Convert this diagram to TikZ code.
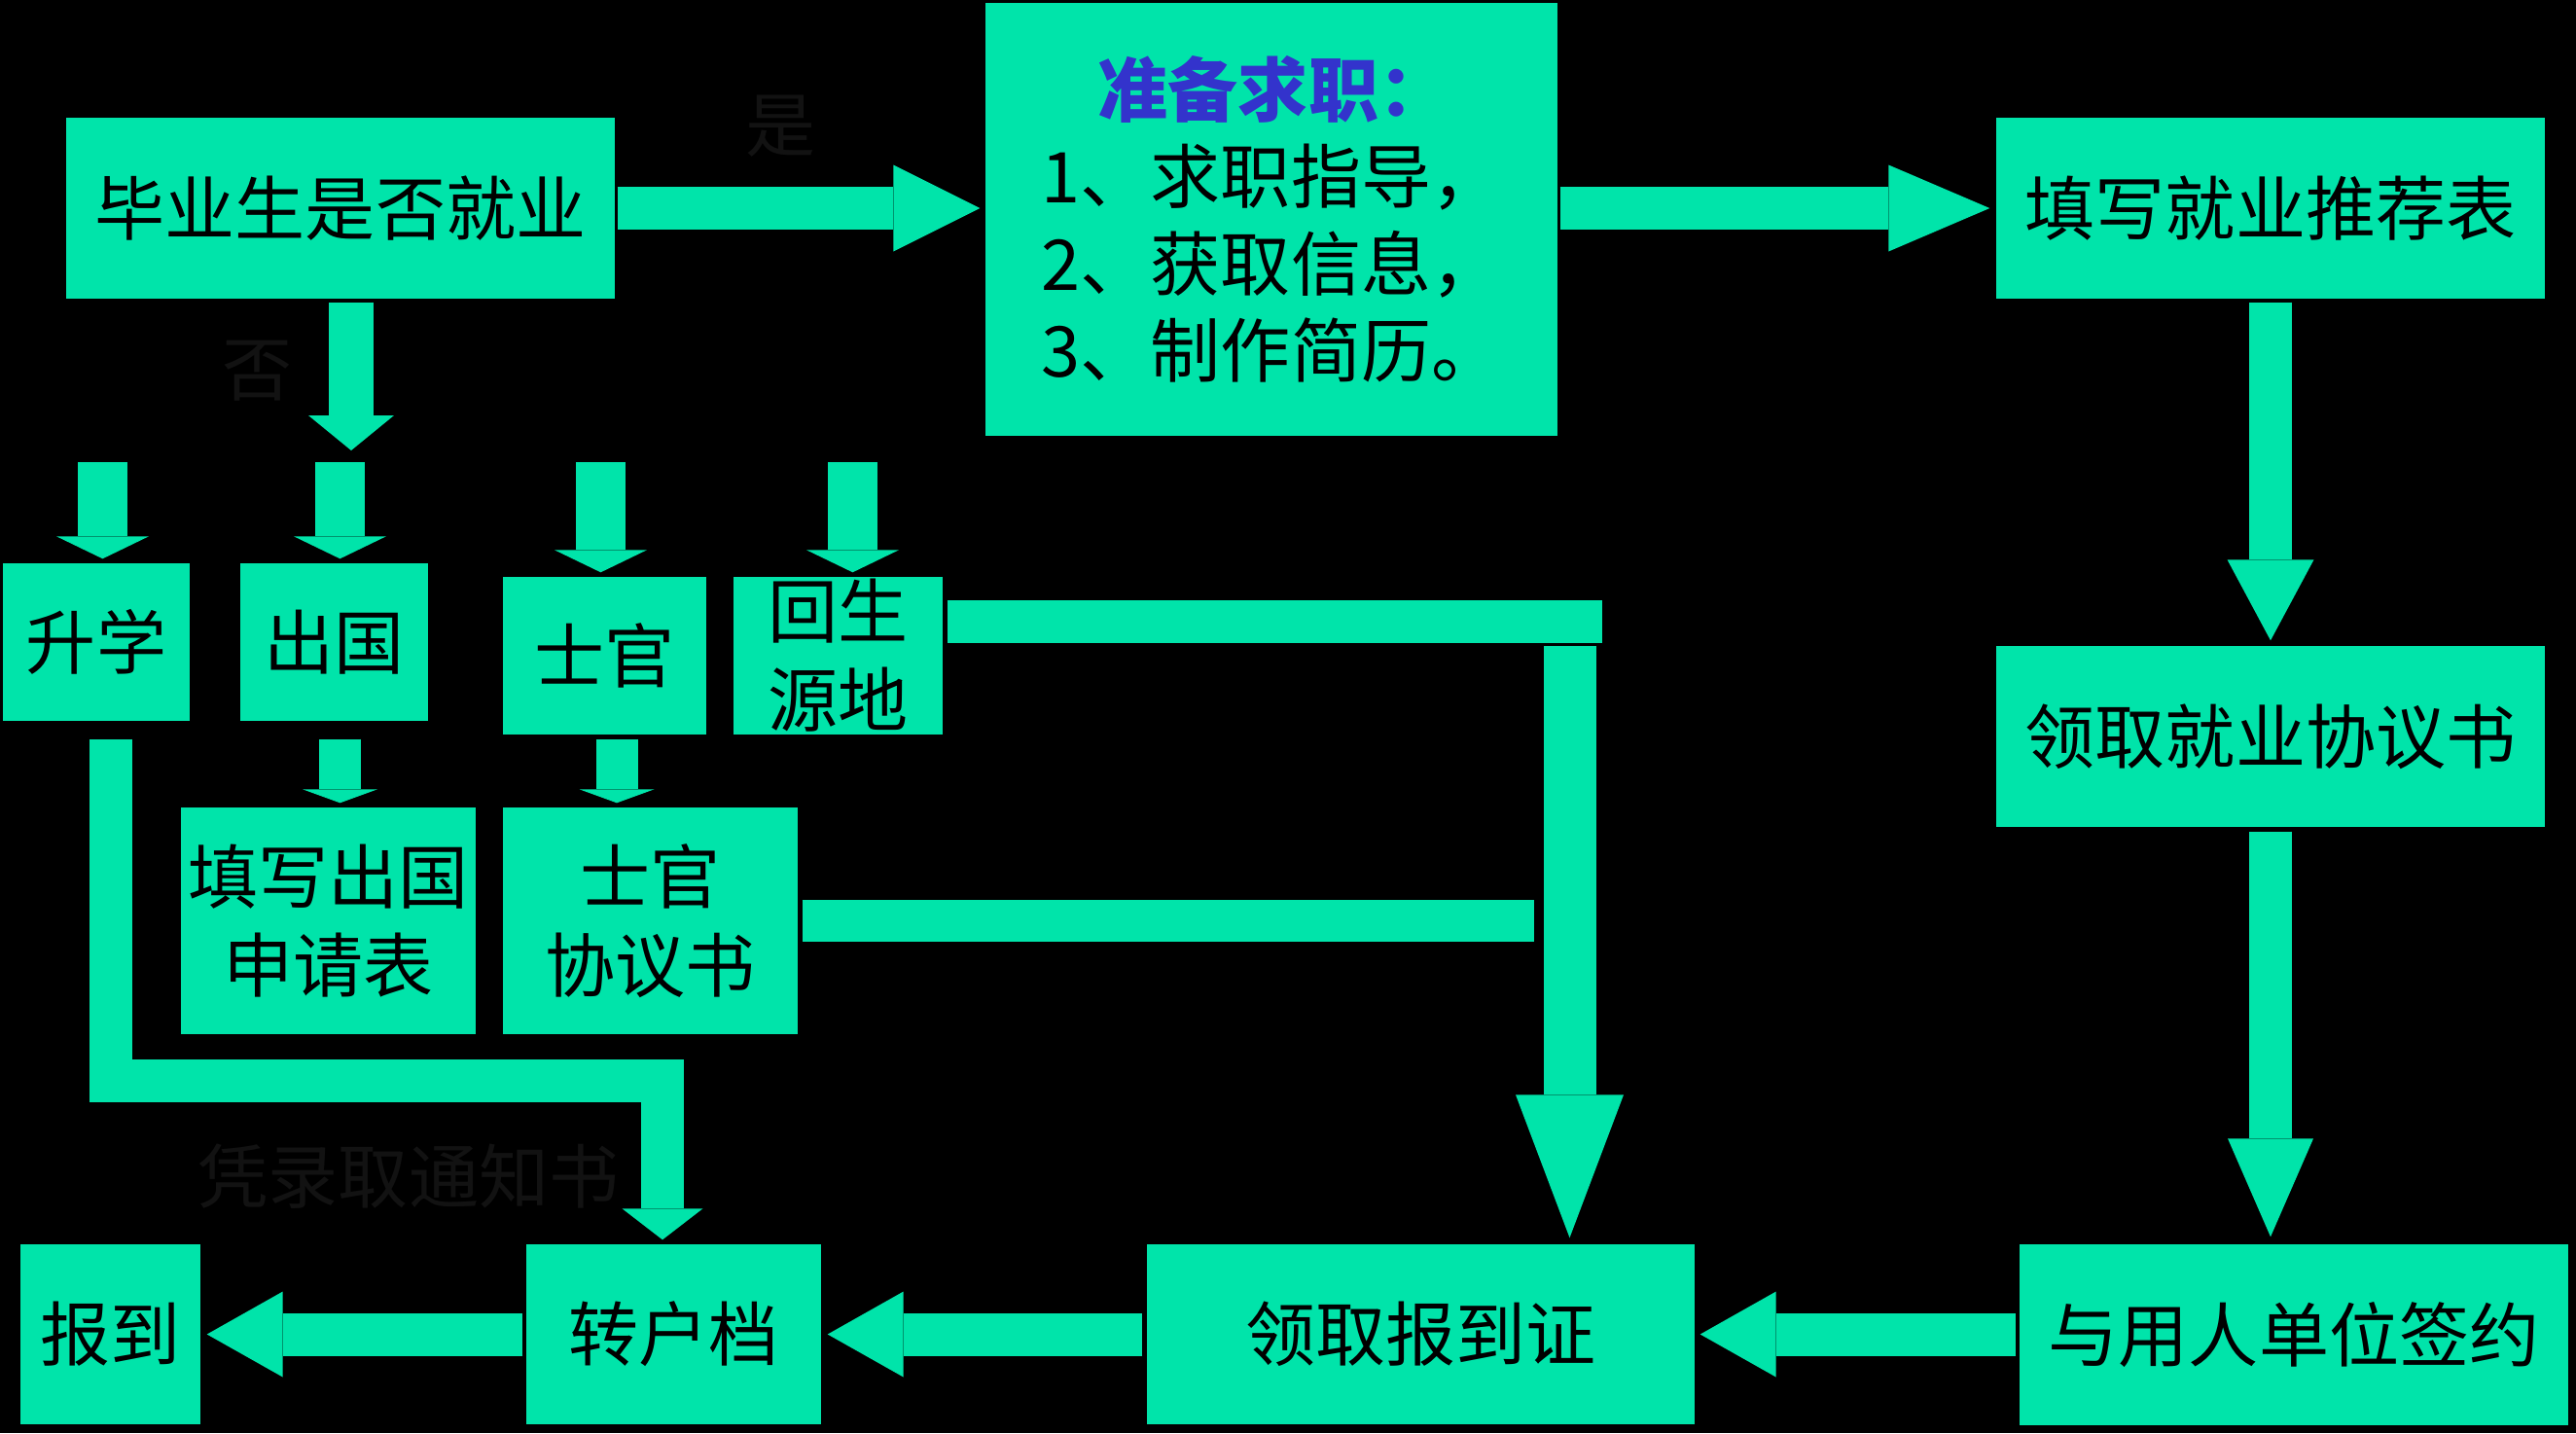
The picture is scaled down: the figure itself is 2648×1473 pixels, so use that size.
\documentclass[tikz,border=0pt]{standalone}
\usepackage{fontspec}
\setmainfont{Noto Sans CJK SC}
\usepackage{tikz}
\usetikzlibrary{arrows.meta}
\definecolor{mint}{RGB}{0,228,170}
\definecolor{ink}{RGB}{51,51,204}
\definecolor{shade}{RGB}{18,18,18}

\begin{document}
\begin{tikzpicture}[x=0.1mm,y=-0.1mm]
						\tikzstyle{box}=[fill=mint,inner sep=0pt,align=center,font=\fontsize{20.5pt}{9.1mm}\selectfont]
						\tikzstyle{hint}=[text=shade,inner sep=0pt,font=\fontsize{20.5pt}{9.1mm}\selectfont]
						\tikzstyle{flow}=[draw=mint,line width=4.4mm]
						\tikzstyle{lowhead}=[-{Triangle[length=7.8mm,width=8.8mm,line width=0pt]}]
						\tikzstyle{stubhead}=[-{Triangle[length=2.3mm,width=9.5mm,line width=0pt]}]
						\tikzstyle{tinyhead}=[-{Triangle[length=1.4mm,width=7.7mm,line width=0pt]}]
						\fill[black] (0,0) rectangle (2648,1473);
						\node[box,minimum width=56.4mm,minimum height=18.6mm](v1) at (350,214) {毕业生是否就业};
						\node[box,minimum width=58.8mm,minimum height=44.5mm,align=left,font=\fontsize{20.5pt}{8.95mm}\selectfont](v2) at (1307,225.5) {\hspace*{5.8mm}{\color{ink}\bfseries 准备求职：}\\1、求职指导，\\2、获取信息，\\3、制作简历。};
						\node[box,minimum width=56.4mm,minimum height=18.6mm](v3) at (2334,214) {填写就业推荐表};
						\node[box,minimum width=56.4mm,minimum height=18.6mm](v4) at (2334,757) {领取就业协议书};
						\node[box,minimum width=56.4mm,minimum height=18.6mm](v5) at (2358,1372) {与用人单位签约};
						\node[box,minimum width=56.3mm,minimum height=18.5mm](v6) at (1460.5,1371.5) {领取报到证};
						\node[box,minimum width=30.3mm,minimum height=18.5mm](v7) at (692.5,1371.5) {转户档};
						\node[box,minimum width=18.5mm,minimum height=18.5mm](v8) at (113.5,1371.5) {报到};
						\node[box,minimum width=19.2mm,minimum height=16.2mm](v9) at (99,660) {升学};
						\node[box,minimum width=19.3mm,minimum height=16.2mm](v10) at (343.5,660) {出国};
						\node[box,minimum width=20.9mm,minimum height=16.2mm](v11) at (621.5,674) {士官};
						\node[box,minimum width=21.5mm,minimum height=16.2mm](v12) at (861.5,674) {回生\\源地};
						\node[box,minimum width=30.3mm,minimum height=23.3mm](v13) at (337.5,946.5) {填写出国\\申请表};
						\node[box,minimum width=30.3mm,minimum height=23.3mm](v14) at (668.5,946.5) {士官\\协议书};
						\node[hint](l1) at (803,130) {是};
						\node[hint](l2) at (265,381) {否};
						\node[hint](l3) at (420,1209) {凭录取通知书};
						\coordinate (c1) at (361,463);
						\coordinate (c2) at (105.5,475);
						\coordinate (c3) at (349.5,475);
						\coordinate (c4) at (617.5,475);
						\coordinate (c5) at (876.5,475);
						\coordinate (c6) at (113.5,1111);
						\coordinate (c7) at (681,1111);
						\coordinate (c8) at (1647,639);
						\coordinate (c9) at (1613.5,664);
						\coordinate (c10) at (1577,946.5);
						\coordinate (c11) at (634,759);
						\draw[flow,-{Triangle[length=8.9mm,width=8.9mm,line width=0pt]},shorten <=0.2mm,shorten >=0.5mm](v1.east) -- (v2.west |- v1.east);
						\draw[flow,-{Triangle[length=10.4mm,width=8.9mm,line width=0pt]},shorten <=0.2mm,shorten >=0.6mm](v2.east |- v3.west) -- (v3.west);
						\draw[flow,-{Triangle[length=8.3mm,width=8.9mm,line width=0pt]},shorten <=0.3mm,shorten >=0.5mm](v3.south) -- (v4.north);
						\draw[flow,-{Triangle[length=10.1mm,width=8.8mm,line width=0pt]},shorten <=0.4mm,shorten >=0.7mm](v4.south) -- (v5.north -| v4.south);
						\draw[flow,lowhead,shorten <=0.3mm,shorten >=0.5mm](v5.west |- v6.east) -- (v6.east);
						\draw[flow,lowhead,shorten <=0.4mm,shorten >=0.6mm](v6.west) -- (v7.east);
						\draw[flow,lowhead,shorten <=0.3mm,shorten >=0.6mm](v7.west) -- (v8.east);
						\draw[flow,line width=4.6mm,-{Triangle[length=3.6mm,width=8.8mm,line width=0pt]},shorten <=0.3mm](v1.south -| c1) -- (c1);
						\draw[flow,line width=5.1mm,stubhead,shorten >=0.4mm](c2) -- (v9.north -| c2);
						\draw[flow,line width=5.1mm,stubhead,shorten >=0.4mm](c3) -- (v10.north -| c3);
						\draw[flow,line width=5.1mm,stubhead,shorten >=0.4mm](c4) -- (v11.north -| c4);
						\draw[flow,line width=5.1mm,stubhead,shorten >=0.4mm](c5) -- (v12.north -| c5);
						\draw[flow,line width=4.3mm,tinyhead,shorten <=1.8mm,shorten >=0.4mm](v10.south -| c3) -- (v13.north -| c3);
						\draw[flow,line width=4.3mm,tinyhead,shorten <=0.4mm,shorten >=0.4mm](v11.south -| c11) -- (v14.north -| c11);
						\draw[flow,-{Triangle[length=3.2mm,width=8.3mm,line width=0pt]},shorten <=1.8mm,shorten >=0.4mm](v9.south -| c6) -- (c6) -- (c7) -- (v7.north -| c7);
						\draw[flow,shorten <=0.4mm](v12.east |- c8) -- (c8);
						\draw[flow,line width=5.4mm,-{Triangle[length=14.7mm,width=11.1mm,line width=0pt]},shorten >=0.6mm](c9) -- (v6.north -| c9);
						\draw[flow,line width=4.3mm,shorten <=0.4mm](v14.east) -- (c10);
					\end{tikzpicture}
\end{document}
